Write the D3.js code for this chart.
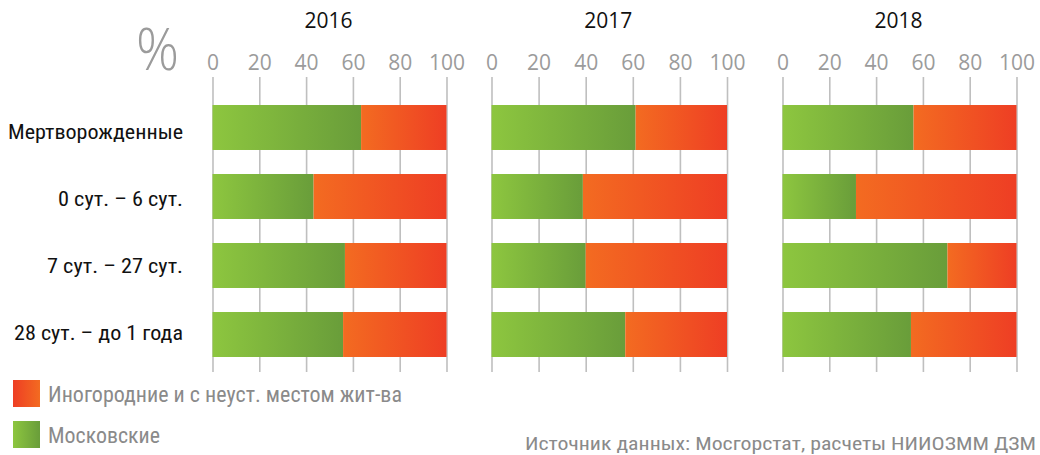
<!DOCTYPE html>
<html><head><meta charset="utf-8">
<script src="https://cdn.jsdelivr.net/npm/d3@7"></script>
<style>
html,body{margin:0;padding:0;background:#fff;}
svg{display:block;}
</style></head>
<body>
<svg id="chart" width="1040" height="455"></svg>
<script>
const categories = ["Мертворожденные", "0 сут. – 6 сут.", "7 сут. – 27 сут.", "28 сут. – до 1 года"];
const years = ["2016", "2017", "2018"];
const moscow2016 = [63.5, 43.2, 56.6, 55.8];
const moscow2017 = [61.2, 38.8, 40.0, 56.8];
const moscow2018 = [56.0, 31.4, 70.5, 54.9];
const other2016 = [36.5, 56.8, 43.4, 44.2];
const other2017 = [38.8, 61.2, 60.0, 43.2];
const other2018 = [44.0, 68.6, 29.5, 45.1];
const tickValues = [0, 20, 40, 60, 80, 100];
const legendLabels = ["Иногородние и с неуст. местом жит-ва", "Московские"];
const sourceText = "Источник данных: Мосгорстат, расчеты НИИОЗММ ДЗМ";

const moscow = [moscow2016, moscow2017, moscow2018];
const other = [other2016, other2017, other2018];

const svg = d3.select("#chart");
const defs = svg.append("defs");
function grad(id, c1, c2) {
  const g = defs.append("linearGradient").attr("id", id).attr("x1", 0).attr("x2", 1).attr("y1", 0).attr("y2", 0);
  g.append("stop").attr("offset", 0).attr("stop-color", c1);
  g.append("stop").attr("offset", 1).attr("stop-color", c2);
}
grad("gGreen", "#8dc63f", "#699d3a");
grad("gOrange", "#f36b21", "#ee3e24");
grad("gOrangeLeg", "#ee3e24", "#f36b21");

const condensed = "'Liberation Sans Narrow','Arial Narrow','Roboto Condensed','Liberation Sans',sans-serif";
const regular = "'Open Sans','Noto Sans',sans-serif";

const panelRanges = [[212.5, 446.5], [491.5, 727], [782.5, 1016.5]];
const y = d3.scaleBand().domain(categories).range([93, 369]).paddingInner(0.348).paddingOuter(0.174);
const yLabel = d3.scalePoint().domain(categories).range([131, 332]);

years.forEach((yr, i) => {
  const x = d3.scaleLinear().domain([0, 100]).range(panelRanges[i]);
  const g = svg.append("g");
  const axis = d3.axisTop(x).tickValues(tickValues).tickSize(295).tickPadding(7);
  const ax = g.append("g").attr("transform", "translate(0,372)").call(axis);
  ax.select(".domain").remove();
  ax.selectAll(".tick line").attr("stroke", "#bfbfbf").attr("stroke-width", 1.6);
  ax.selectAll(".tick text").attr("fill", "#9b9b9b").style("font-family", regular).style("font-size", "21px");

  g.append("text").attr("x", (panelRanges[i][0] + panelRanges[i][1]) / 2 - 1).attr("y", 28)
    .attr("text-anchor", "middle").style("font-family", regular).style("font-size", "21px").attr("fill", "#111").text(yr);

  g.selectAll("rect.m").data(categories).join("rect").attr("class", "m")
    .attr("x", x(0)).attr("y", d => y(d)).attr("height", y.bandwidth())
    .attr("width", (d, j) => x(moscow[i][j]) - x(0)).attr("fill", "url(#gGreen)");
  g.selectAll("rect.o").data(categories).join("rect").attr("class", "o")
    .attr("x", (d, j) => x(moscow[i][j])).attr("y", d => y(d)).attr("height", y.bandwidth())
    .attr("width", (d, j) => x(moscow[i][j] + other[i][j]) - x(moscow[i][j])).attr("fill", "url(#gOrange)");
});

// category labels
const catWidths = [175, 125, 136, 169];
svg.selectAll("text.cat").data(categories).join("text").attr("class", "cat")
  .attr("x", 183).attr("y", d => yLabel(d) + 7.5).attr("text-anchor", "end")
  .style("font-family", condensed).style("font-size", "20px").attr("fill", "#111")
  .attr("textLength", (d, j) => catWidths[j]).attr("lengthAdjust", "spacingAndGlyphs")
  .text(d => d);

// percent sign
svg.append("text").attr("x", 136).attr("y", 70).style("font-family", regular).style("font-weight", 300)
  .style("font-size", "58px").attr("fill", "#9b9b9b").attr("textLength", 43).attr("lengthAdjust", "spacingAndGlyphs").text("%");

// legend
const legFills = ["url(#gOrangeLeg)", "url(#gGreen)"];
const legY = [380, 421];
const legW = [354, 112];
legendLabels.forEach((t, k) => {
  svg.append("rect").attr("x", 13).attr("y", legY[k]).attr("width", 27).attr("height", 27).attr("fill", legFills[k]);
  svg.append("text").attr("x", 48).attr("y", legY[k] + 22).style("font-family", condensed).style("font-size", "22px")
    .attr("fill", "#8a8a8a").attr("textLength", legW[k]).attr("lengthAdjust", "spacingAndGlyphs").text(t);
});

svg.append("text").attr("x", 1036).attr("y", 450).attr("text-anchor", "end").style("font-family", condensed)
  .style("font-size", "19px").attr("fill", "#8a8a8a").attr("textLength", 511).attr("lengthAdjust", "spacingAndGlyphs").text(sourceText);
</script>
</body></html>
